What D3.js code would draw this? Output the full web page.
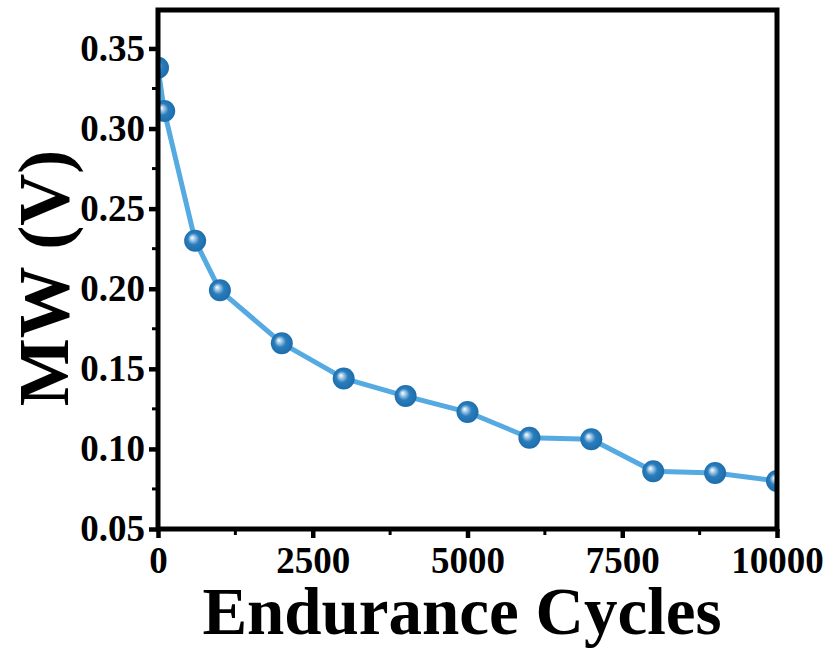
<!DOCTYPE html>
<html>
<head>
<meta charset="utf-8">
<script src="https://cdn.jsdelivr.net/npm/d3@7"></script>
<style>
  body { margin: 0; background: #fff; }
  svg { display: block; }
  text { font-family: "Liberation Serif", "Times New Roman", serif; font-weight: bold; fill: #000; }
</style>
</head>
<body>
<svg width="830" height="651"></svg>
<script>
// data
const cycles = [0, 100, 600, 1000, 2000, 3000, 4000, 5000, 6000, 7000, 8000, 9000, 10000];
const mw = [0.338, 0.311, 0.230, 0.199, 0.166, 0.144, 0.133, 0.123, 0.107, 0.106, 0.086, 0.085, 0.080];
const xTicks = [0, 2500, 5000, 7500, 10000];
const yTicks = [0.05, 0.10, 0.15, 0.20, 0.25, 0.30, 0.35];
const xLabel = "Endurance Cycles";
const yLabel = "MW (V)";

const margin = { top: 10, right: 53, bottom: 122, left: 158 };
const width = 830 - margin.left - margin.right;
const height = 651 - margin.top - margin.bottom;

const svg = d3.select("svg");
const g = svg.append("g").attr("transform", `translate(${margin.left},${margin.top})`);

const x = d3.scaleLinear().domain([0, 10000]).range([0, width]);
const y = d3.scaleLinear().domain([0.05, 0.374]).range([height, 0]);

const defs = svg.append("defs");
defs.append("clipPath").attr("id", "plotClip")
    .append("rect").attr("width", width).attr("height", height);

const grad = defs.append("radialGradient").attr("id", "ball")
    .attr("cx", "50%").attr("cy", "50%").attr("r", "55%")
    .attr("fx", "36%").attr("fy", "36%");
grad.append("stop").attr("offset", "0%").attr("stop-color", "#ffffff");
grad.append("stop").attr("offset", "20%").attr("stop-color", "#a4cbe8");
grad.append("stop").attr("offset", "48%").attr("stop-color", "#2a7dbc");
grad.append("stop").attr("offset", "100%").attr("stop-color", "#1a6aa8");

const pts = cycles.map((c, i) => ({ c: c, v: mw[i] }));

const plot = g.append("g").attr("clip-path", "url(#plotClip)");

plot.append("path")
    .datum(pts)
    .attr("fill", "none")
    .attr("stroke", "#55aae2")
    .attr("stroke-width", 5)
    .attr("stroke-linejoin", "round")
    .attr("d", d3.line().x(d => x(d.c)).y(d => y(d.v)));

plot.selectAll(".dot")
    .data(pts)
    .enter().append("circle")
    .attr("class", "dot")
    .attr("cx", d => x(d.c))
    .attr("cy", d => y(d.v))
    .attr("r", 11)
    .attr("fill", "url(#ball)");

// minor ticks
const xMinor = d3.range(1250, 10000, 2500);
const yMinor = d3.range(0.075, 0.37, 0.05);

g.selectAll(".xminor").data(xMinor).enter().append("line")
    .attr("x1", d => x(d)).attr("x2", d => x(d))
    .attr("y1", height).attr("y2", height + 6)
    .attr("stroke", "#000").attr("stroke-width", 3);
g.selectAll(".yminor").data(yMinor).enter().append("line")
    .attr("y1", d => y(d)).attr("y2", d => y(d))
    .attr("x1", 0).attr("x2", -6)
    .attr("stroke", "#000").attr("stroke-width", 3);

// axes
const xAxis = g.append("g")
    .attr("transform", `translate(0,${height})`)
    .call(d3.axisBottom(x).tickValues(xTicks).tickFormat(d3.format("d")).tickSize(9).tickPadding(9));
const yAxis = g.append("g")
    .call(d3.axisLeft(y).tickValues(yTicks).tickFormat(d3.format(".2f")).tickSize(9).tickPadding(4));

[xAxis, yAxis].forEach(a => {
    a.select(".domain").remove();
    a.selectAll(".tick line").attr("stroke", "#000").attr("stroke-width", 4.5);
    a.selectAll(".tick text").style("font-size", "37px").attr("fill", "#000");
});

// frame
g.append("rect")
    .attr("width", width).attr("height", height)
    .attr("fill", "none").attr("stroke", "#000").attr("stroke-width", 5);

// axis titles
svg.append("text")
    .attr("x", 462)
    .attr("y", 634)
    .attr("text-anchor", "middle")
    .style("font-size", "67px")
    .text(xLabel);

svg.append("text")
    .attr("transform", `translate(68,${278}) rotate(-90)`)
    .attr("text-anchor", "middle")
    .style("font-size", "72px")
    .text(yLabel);
</script>
</body>
</html>
